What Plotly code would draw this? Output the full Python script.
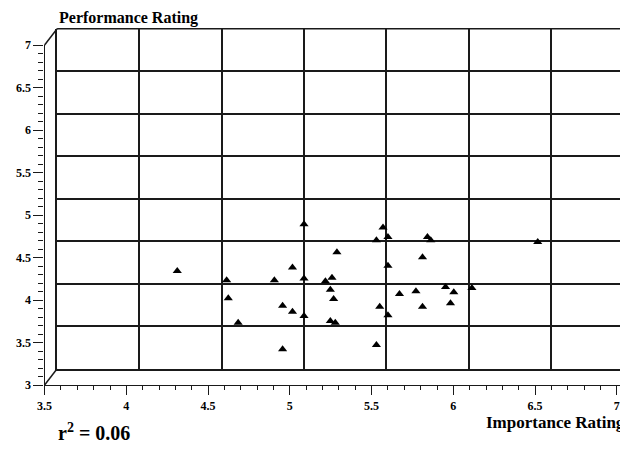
import plotly.graph_objects as go

importance = [4.23, 4.53, 4.54, 4.60, 4.82, 4.87, 4.87, 4.93, 4.93, 5.00, 5.00, 5.00,
              5.13, 5.17, 5.16, 5.18, 5.16, 5.19, 5.20, 5.44, 5.44, 5.48, 5.51, 5.51,
              5.46, 5.51, 5.58, 5.68, 5.72, 5.75, 5.77, 5.72, 5.86, 5.91, 5.89, 6.02, 6.42]
performance = [4.15, 4.04, 3.83, 3.54, 4.04, 3.74, 3.23, 4.19, 3.67, 4.70, 4.06, 3.62,
               4.03, 4.07, 3.93, 3.82, 3.56, 3.54, 4.37, 3.28, 4.51, 4.66, 4.55, 4.21,
               3.73, 3.63, 3.88, 3.91, 4.31, 4.55, 4.51, 3.73, 3.96, 3.90, 3.77, 3.95, 4.49]

x_ticks = [3.5, 4, 4.5, 5, 5.5, 6, 6.5, 7]
x_ticktext = ["3.5", "4", "4.5", "5", "5.5", "6", "6.5", "7"]
y_ticks = [3, 3.5, 4, 4.5, 5, 5.5, 6, 6.5, 7]
y_ticktext = ["3", "3.5", "4", "4.5", "5", "5.5", "6", "6.5", "7"]
grid_x = [4, 4.5, 5, 5.5, 6, 6.5]
grid_y = [3.5, 4, 4.5, 5, 5.5, 6, 6.5]

x_title = "<b>Importance Rating</b>"
y_title = "<b>Performance Rating</b>"
r2_text = "<b>r<sup>2</sup> = 0.06</b>"

W, H = 620, 450
FONT = "Liberation Serif"
INK = "#1a1a1a"


def fx(px):
    return px / W


def fy(py):
    return 1 - py / H


# back wall (window pixels)
bx0, by_top, by_bot = 57.1, 28.7, 368.7
px_per_unit = 164.6
# front axes (window pixels)
fx0, fy_top, fy_bot = 44.6, 45.0, 385.0
front_px_per_unit = 163.5

fig = go.Figure()
fig.add_trace(go.Scatter(
    x=importance, y=performance, mode="markers",
    marker=dict(symbol="triangle-up", size=8, color="black"),
    xaxis="x", yaxis="y", showlegend=False, hoverinfo="x+y"))
# empty trace so the front-axis subplot is created
fig.add_trace(go.Scatter(x=[], y=[], mode="markers", xaxis="x2", yaxis="y2",
                         showlegend=False, hoverinfo="skip"))

fig.update_layout(
    width=W, height=H, autosize=False,
    margin=dict(l=0, r=0, t=0, b=0, pad=0, autoexpand=False),
    paper_bgcolor="white", plot_bgcolor="rgba(0,0,0,0)",
    font=dict(family=FONT, color="black", size=11),
    xaxis=dict(
        domain=[fx(bx0), 1.0],
        range=[3.5, 3.5 + (W - bx0) / px_per_unit],
        tickmode="array", tickvals=grid_x, showticklabels=False, ticks="",
        showgrid=True, gridcolor=INK, gridwidth=1.6,
        showline=True, linecolor=INK, linewidth=1.6, mirror=False,
        zeroline=False, anchor="y", fixedrange=True, automargin=False),
    yaxis=dict(
        domain=[fy(by_bot), fy(by_top)],
        range=[3, 7], tickmode="array", tickvals=grid_y,
        showticklabels=False, ticks="",
        showgrid=True, gridcolor=INK, gridwidth=1.6,
        showline=True, linecolor=INK, linewidth=1.8, mirror=False,
        zeroline=False, anchor="x", fixedrange=True, automargin=False),
    xaxis2=dict(
        domain=[fx(fx0), 1.0],
        range=[3.5, 3.5 + (W - fx0) / front_px_per_unit],
        anchor="y2", automargin=False,
        tickmode="array", tickvals=x_ticks, ticktext=x_ticktext,
        ticks="outside", ticklen=9, tickwidth=1.4, tickcolor=INK,
        minor=dict(ticks="outside", ticklen=4, tickwidth=1.2, tickcolor=INK,
                   tick0=3.5, dtick=0.1, showgrid=False),
        showline=True, linecolor=INK, linewidth=1.4,
        showgrid=False, zeroline=False, fixedrange=True,
        tickfont=dict(family=FONT, size=12, color="black", weight="bold")),
    yaxis2=dict(
        domain=[fy(fy_bot), fy(fy_top)], range=[3, 7], anchor="x2",
        automargin=False,
        tickmode="array", tickvals=y_ticks, ticktext=y_ticktext,
        ticks="outside", ticklen=10, tickwidth=1.4, tickcolor=INK,
        minor=dict(ticks="outside", ticklen=5, tickwidth=1.2, tickcolor=INK,
                   tick0=3, dtick=0.1, showgrid=False),
        showline=True, linecolor=INK, linewidth=1.4,
        showgrid=False, zeroline=False, fixedrange=True,
        tickfont=dict(family=FONT, size=12, color="black", weight="bold")),
)

# top edge of the back wall
fig.add_shape(type="line", xref="x domain", yref="y domain",
              x0=0, x1=1, y0=1, y1=1, line=dict(color=INK, width=1.6))

# depth edges between front axes and back wall
for (xa, ya, xb, yb) in [(fx0, fy_top, bx0, by_top), (fx0, fy_bot, bx0, by_bot)]:
    fig.add_shape(type="line", xref="paper", yref="paper",
                  x0=fx(xa), y0=fy(ya), x1=fx(xb), y1=fy(yb),
                  line=dict(color=INK, width=1.5))

fig.add_annotation(text=y_title, xref="paper", yref="paper",
                   x=fx(57), y=fy(18), xanchor="left", yanchor="middle",
                   showarrow=False, font=dict(family=FONT, size=16, color="black"))
fig.add_annotation(text=x_title, xref="paper", yref="paper",
                   x=fx(484), y=fy(422), xanchor="left", yanchor="middle",
                   showarrow=False, font=dict(family=FONT, size=17, color="black"))
fig.add_annotation(text=r2_text, xref="paper", yref="paper",
                   x=fx(56), y=fy(432), xanchor="left", yanchor="middle",
                   showarrow=False, font=dict(family=FONT, size=20, color="black"))

# remove the default 8px page margin so the 620x450 figure fills the window
fig.write_html(
    "out.html",
    config={"displayModeBar": False},
    post_script="document.body.style.margin='0';"
                "document.body.style.overflow='hidden';")
